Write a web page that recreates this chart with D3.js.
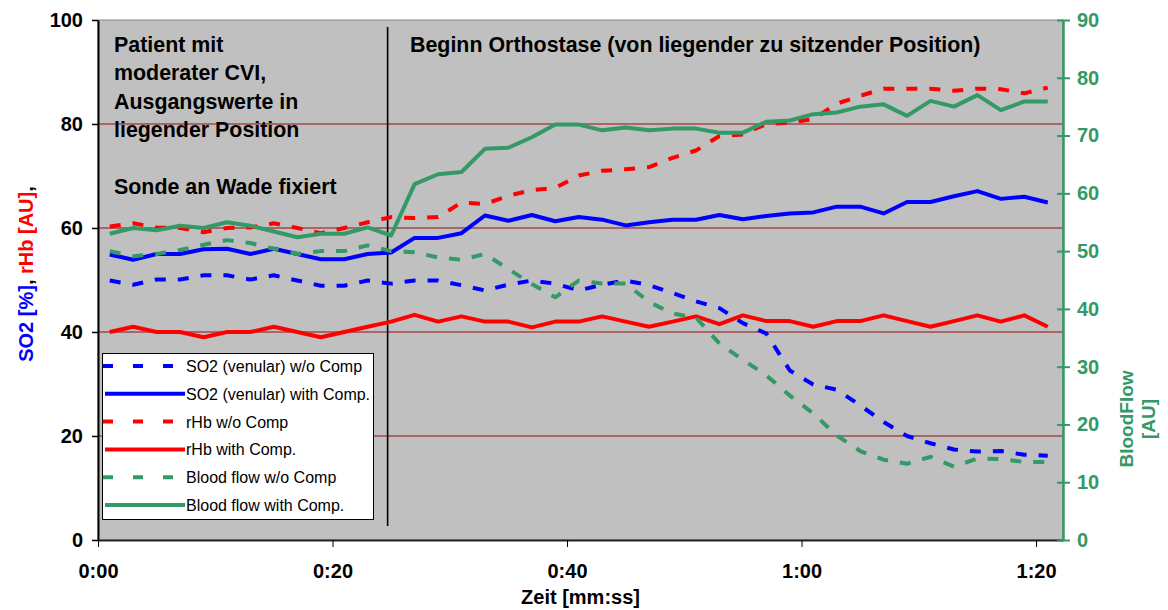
<!DOCTYPE html>
<html>
<head>
<meta charset="utf-8">
<script src="https://cdn.jsdelivr.net/npm/d3@7"></script>
<style>
  body { margin: 0; background: #fff; }
  svg text { font-family: "Liberation Sans", Arial, sans-serif; }
</style>
</head>
<body>
<svg id="chart" width="1168" height="610"></svg>
<script>
// time of each sample in seconds
var seconds = [1, 3, 5, 7, 9, 11, 13, 15, 17, 19, 21, 23, 25, 27, 29, 31, 33, 35, 37, 39, 41,
               43, 45, 47, 49, 51, 53, 55, 57, 59, 61, 63, 65, 67, 69, 71, 73, 75, 77, 79, 81];

// left axis series
var so2NoComp = [49.9, 49.1, 50.1, 50.1, 50.9, 50.9, 50.1, 50.9, 49.9, 48.9, 48.9, 49.9, 49.3, 49.9, 49.9, 49.0, 48.0, 49.1, 49.9, 49.3, 48.0,
                 49.1, 49.9, 49.0, 47.5, 45.9, 44.6, 41.7, 39.7, 32.6, 29.9, 28.9, 25.9, 22.7, 20.0, 18.6, 17.4, 17.0, 17.1, 16.4, 16.2];
var so2Comp   = [54.9, 53.9, 55.0, 55.0, 55.9, 56.0, 55.0, 56.0, 55.0, 54.0, 54.0, 55.0, 55.3, 58.1, 58.1, 59.0, 62.4, 61.4, 62.5, 61.3, 62.1,
                 61.6, 60.5, 61.1, 61.6, 61.6, 62.5, 61.7, 62.3, 62.8, 63.0, 64.1, 64.1, 62.8, 65.0, 65.0, 66.1, 67.1, 65.6, 66.0, 64.9];
var rhbNoComp = [60.3, 60.9, 60.1, 60.0, 59.2, 60.0, 60.1, 60.9, 60.0, 59.0, 60.0, 61.1, 62.1, 61.9, 62.1, 64.9, 64.6, 66.2, 67.3, 67.7, 70.1,
                 71.0, 71.3, 71.7, 73.5, 74.9, 77.7, 78.0, 80.0, 80.3, 80.9, 83.9, 85.4, 86.8, 86.8, 86.8, 86.4, 86.8, 86.7, 85.9, 87.0];
var rhbComp   = [40.0, 41.0, 40.0, 40.0, 39.0, 40.0, 40.0, 41.0, 40.0, 39.0, 40.0, 41.0, 42.0, 43.3, 42.0, 43.0, 42.0, 42.0, 40.9, 42.0, 42.0,
                 43.0, 42.0, 41.0, 42.0, 43.0, 41.5, 43.2, 42.1, 42.1, 41.0, 42.1, 42.1, 43.2, 42.1, 41.0, 42.1, 43.2, 42.0, 43.2, 41.0];
// right axis series
var flowNoComp = [50.0, 49.1, 49.5, 50.2, 51.1, 51.9, 51.4, 50.4, 49.5, 50.0, 50.0, 51.0, 50.0, 49.8, 48.9, 48.5, 49.5, 46.9, 44.3, 42.0, 44.9,
                  44.4, 44.4, 41.2, 39.2, 38.5, 34.0, 31.2, 28.5, 25.0, 21.9, 18.1, 15.4, 13.9, 13.2, 14.4, 12.7, 14.1, 14.0, 13.5, 13.5];
var flowComp   = [53.0, 54.0, 53.6, 54.4, 54.0, 55.0, 54.4, 53.4, 52.4, 53.0, 53.0, 54.1, 52.7, 61.6, 63.3, 63.7, 67.7, 67.9, 69.7, 71.9, 71.9,
                  70.9, 71.4, 70.9, 71.2, 71.2, 70.5, 70.5, 72.4, 72.6, 73.7, 74.0, 75.0, 75.4, 73.4, 76.0, 75.0, 77.0, 74.4, 75.9, 75.9];

var leftTicks = [0, 20, 40, 60, 80, 100];
var rightTicks = [0, 10, 20, 30, 40, 50, 60, 70, 80, 90];
var xTicks = [0, 20, 40, 60, 80];
var orthostaseStart = 24.7;

var series = [
  {name: "SO2 (venular) w/o Comp",   values: so2NoComp,  color: "#0000ff", dashed: true,  axis: "L"},
  {name: "SO2 (venular) with Comp.", values: so2Comp,    color: "#0000ff", dashed: false, axis: "L"},
  {name: "rHb w/o Comp",             values: rhbNoComp,  color: "#ff0000", dashed: true,  axis: "L"},
  {name: "rHb with Comp.",           values: rhbComp,    color: "#ff0000", dashed: false, axis: "L"},
  {name: "Blood flow w/o Comp",      values: flowNoComp, color: "#339966", dashed: true,  axis: "R"},
  {name: "Blood flow with Comp.",    values: flowComp,   color: "#339966", dashed: false, axis: "R"}
];

var green = "#339966";
var svg = d3.select("#chart");
var plotLeft = 98, plotRight = 1063, plotTop = 20, plotBottom = 540;

var x = d3.scaleLinear().domain([0, 82.3]).range([plotLeft, plotRight]);
var yL = d3.scaleLinear().domain([0, 100]).range([plotBottom, plotTop]);
var yR = d3.scaleLinear().domain([0, 90]).range([plotBottom, plotTop]);

// plot area
svg.append("rect")
  .attr("x", plotLeft).attr("y", plotTop)
  .attr("width", plotRight - plotLeft).attr("height", plotBottom - plotTop)
  .attr("fill", "#c0c0c0")
  .attr("stroke", "#8a8a8a").attr("stroke-width", 1);

// gridlines
svg.append("g").selectAll("line")
  .data(leftTicks.filter(function(d) { return d > 0 && d < 100; }))
  .enter().append("line")
    .attr("x1", plotLeft).attr("x2", plotRight)
    .attr("y1", function(d) { return yL(d); })
    .attr("y2", function(d) { return yL(d); })
    .attr("stroke", "#a04848").attr("stroke-width", 1.3);

// vertical marker
svg.append("line")
  .attr("x1", x(orthostaseStart)).attr("x2", x(orthostaseStart))
  .attr("y1", 27).attr("y2", 526)
  .attr("stroke", "#000").attr("stroke-width", 1.6);

// annotations
var noteLeft = ["Patient mit", "moderater CVI,", "Ausgangswerte in", "liegender Position", "", "Sonde an Wade fixiert"];
svg.append("g").selectAll("text")
  .data(noteLeft)
  .enter().append("text")
    .attr("x", 114)
    .attr("y", function(d, i) { return 52 + i * 28.3; })
    .attr("font-size", 21.4).attr("font-weight", "bold")
    .text(function(d) { return d; });

svg.append("text")
  .attr("x", 410).attr("y", 52)
  .attr("font-size", 21.4).attr("font-weight", "bold")
  .text("Beginn Orthostase (von liegender zu sitzender Position)");

// lines
var lineL = d3.line().x(function(d, i) { return x(seconds[i]); }).y(function(d) { return yL(d); });
var lineR = d3.line().x(function(d, i) { return x(seconds[i]); }).y(function(d) { return yR(d); });

svg.append("g").selectAll("path")
  .data(series)
  .enter().append("path")
    .attr("d", function(s) { return s.axis == "L" ? lineL(s.values) : lineR(s.values); })
    .attr("fill", "none")
    .attr("stroke", function(s) { return s.color; })
    .attr("stroke-width", 4)
    .attr("stroke-linejoin", "round")
    .attr("stroke-dasharray", function(s) { return s.dashed ? "11,12" : null; });

// left axis
var axL = svg.append("g")
  .attr("transform", "translate(" + plotLeft + ",0)")
  .call(d3.axisLeft(yL).tickValues(leftTicks).tickSize(6).tickSizeOuter(0).tickPadding(9));
axL.select(".domain").attr("stroke", "#000").attr("stroke-width", 2);
axL.selectAll(".tick line").attr("stroke", "#000").attr("stroke-width", 1.5);
axL.selectAll("text").attr("font-size", 20).attr("font-weight", "bold")
  .attr("font-family", "'Liberation Sans', Arial, sans-serif").attr("fill", "#000");

// bottom axis
var axB = svg.append("g")
  .attr("transform", "translate(0," + plotBottom + ")")
  .call(d3.axisBottom(x).tickValues(xTicks).tickSize(7).tickSizeOuter(0).tickPadding(17)
    .tickFormat(function(d) { return Math.floor(d / 60) + ":" + d3.format("02")(d % 60); }));
axB.select(".domain").attr("stroke", "#222").attr("stroke-width", 2);
axB.selectAll(".tick line").attr("stroke", "#000").attr("stroke-width", 1);
axB.selectAll("text").attr("font-size", 20).attr("font-weight", "bold")
  .attr("font-family", "'Liberation Sans', Arial, sans-serif").attr("fill", "#000");

// right axis
var axR = svg.append("g")
  .attr("transform", "translate(" + plotRight + ",0)")
  .call(d3.axisRight(yR).tickValues(rightTicks).tickSize(7).tickSizeOuter(0).tickPadding(7));
axR.select(".domain").attr("stroke", green).attr("stroke-width", 2.5);
axR.selectAll(".tick line").attr("x1", -6).attr("stroke", green).attr("stroke-width", 2);
axR.selectAll("text").attr("font-size", 20).attr("font-weight", "bold")
  .attr("font-family", "'Liberation Sans', Arial, sans-serif").attr("fill", green);

// axis titles
var tl = svg.append("text")
  .attr("transform", "translate(33,274) rotate(-90)")
  .attr("text-anchor", "middle")
  .attr("font-size", 20).attr("font-weight", "bold");
tl.append("tspan").attr("fill", "#0000ff").text("SO2 [%]");
tl.append("tspan").attr("fill", "#000").text(", ");
tl.append("tspan").attr("fill", "#ff0000").text("rHb [AU]");
tl.append("tspan").attr("fill", "#000").text(",");

svg.append("text")
  .attr("transform", "translate(1133,419) rotate(-90)")
  .attr("text-anchor", "middle")
  .attr("font-size", 19).attr("font-weight", "bold").attr("fill", green)
  .text("BloodFlow");
svg.append("text")
  .attr("transform", "translate(1155,419) rotate(-90)")
  .attr("text-anchor", "middle")
  .attr("font-size", 19).attr("font-weight", "bold").attr("fill", green)
  .text("[AU]");

svg.append("text")
  .attr("x", (plotLeft + plotRight) / 2).attr("y", 604)
  .attr("text-anchor", "middle")
  .attr("font-size", 20).attr("font-weight", "bold")
  .text("Zeit [mm:ss]");

// legend
var legend = svg.append("g");
legend.append("rect")
  .attr("x", 102.5).attr("y", 353.5).attr("width", 271).attr("height", 166)
  .attr("fill", "#fff").attr("stroke", "#000").attr("stroke-width", 1);

var item = legend.selectAll("g.item")
  .data(series)
  .enter().append("g")
    .attr("class", "item")
    .attr("transform", function(d, i) { return "translate(0," + (366 + i * 27.8) + ")"; });
item.append("line")
  .attr("x1", function(d) { return d.dashed ? 103 : 105; }).attr("x2", 185)
  .attr("stroke", function(d) { return d.color; })
  .attr("stroke-width", 4)
  .attr("stroke-dasharray", function(d) { return d.dashed ? "10,20" : null; });
item.append("text")
  .attr("x", 186).attr("y", 6)
  .attr("font-size", 16)
  .text(function(d) { return d.name; });
</script>
</body>
</html>
